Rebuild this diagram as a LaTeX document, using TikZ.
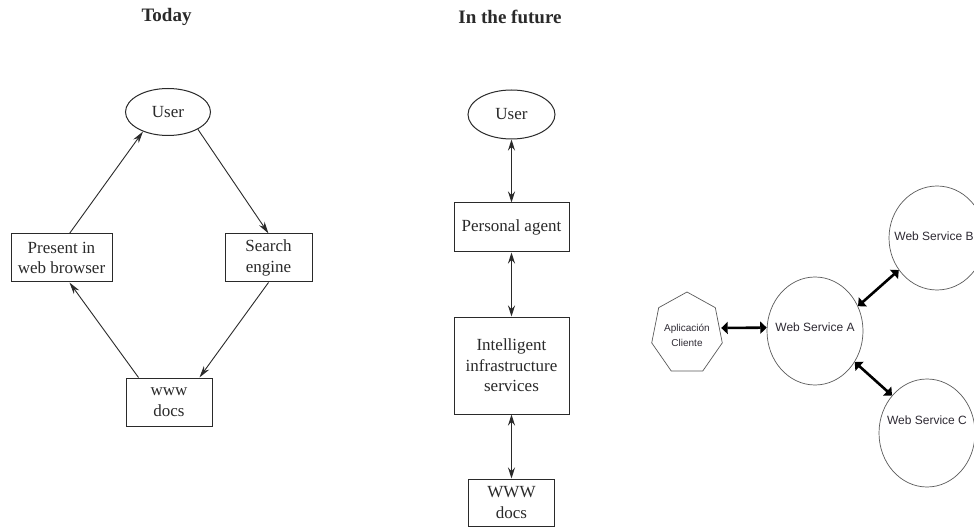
\documentclass[tikz,border=0pt]{standalone}
\usepackage{fontspec}
\setmainfont{Liberation Serif}
\newfontfamily\arialf{Liberation Sans}
\usetikzlibrary{arrows.meta,shapes.geometric}

\definecolor{linec}{HTML}{2A2A2A}
\definecolor{wsline}{HTML}{5A5A5A}
\definecolor{wsink}{HTML}{2E2A33}

\begin{document}
\begin{tikzpicture}[x=1pt,y=-1pt,
  ttl/.style={font=\fontsize{19}{22}\selectfont\bfseries, text=linec},
  sbox/.style={draw=linec, line width=1pt, align=center, inner sep=0pt,
    text=linec, font=\fontsize{17}{20.5}\selectfont},
  uell/.style={sbox, ellipse},
  fwd/.style={-{Stealth[length=12pt,width=6.5pt]}, draw=linec, line width=0.9pt},
  both/.style={{Stealth[length=11pt,width=7pt]}-{Stealth[length=11pt,width=7pt]},
    draw=linec, line width=1pt},
  ws/.style={ellipse, draw=wsline, line width=0.7pt, minimum width=96pt,
    minimum height=108pt, inner sep=0pt},
  wstext/.style={font=\arialf\fontsize{12}{14}\selectfont, text=wsink, inner sep=0pt},
  tharr/.style={{Triangle[length=6.5pt,width=12pt]}-{Triangle[length=6.5pt,width=12pt]},
    line width=2.6pt, draw=black}]

\fill[white] (0,0) rectangle (974,529);
\useasboundingbox (0,0) rectangle (974,529);

% ---- Today ----
\node[ttl] (t1) at (166.5,17) {Today};
\node[uell, minimum width=85pt, minimum height=47pt] (u1) at (168,112) {User};
\node[sbox, minimum width=101pt, minimum height=48pt] (pb) at (61.5,258) {Present in\\web browser};
\node[sbox, minimum width=87pt, minimum height=48pt] (se) at (268.5,258) {Search\\engine};
\node[sbox, minimum width=86pt, minimum height=48pt] (wd1) at (169,402) {www\\docs};

\draw[fwd] (u1.-30) -- (se.north);
\draw[fwd] (se.south) -- ([xshift=-13pt]wd1.north east);
\draw[fwd] ([xshift=13pt]wd1.north west) -- ([xshift=8pt]pb.south);
\draw[fwd] ([xshift=8pt]pb.north) -- (u1.-142);

% ---- In the future ----
\node[ttl] (t2) at (510,17) {In the future};
\node[uell, minimum width=87pt, minimum height=49pt] (u2) at (511.5,114.5) {User};
\node[sbox, minimum width=115pt, minimum height=49pt] (pa) at (511.5,227.5) {Personal agent};
\node[sbox, minimum width=115pt, minimum height=97pt] (ii) at (511.5,365.5) {Intelligent\\infrastructure\\services};
\node[sbox, minimum width=86pt, minimum height=47pt] (wd2) at (511.5,502.5) {WWW\\docs};

\draw[both] (u2) -- (pa);
\draw[both] (pa) -- (ii);
\draw[both] (ii) -- (wd2);

% ---- Web services ----
% client application: a slightly narrowed heptagon
\draw[wsline, line width=0.7pt, shift={(687,333.6)}, xscale=0.87]
  (-90:41.6) \foreach \k in {1,...,6}{ -- ({-90+\k*360/7}:41.6)} -- cycle;
\node[wstext, font=\arialf\fontsize{10}{15}\selectfont, align=center,
  minimum width=72pt, minimum height=79pt] (apl) at (687,335) {Aplicación\\Cliente};

\node[ws, label={[wstext,yshift=4pt]center:Web Service A}] (wa) at (815,331) {};
\node[ws, minimum height=104pt, label={[wstext,xshift=-3pt,yshift=2pt]center:Web Service B}] (wb) at (937,238) {};
\node[ws, label={[wstext,yshift=13pt]center:Web Service C}] (wc) at (927,433) {};

\draw[tharr] ([xshift=-2pt,yshift=7pt]apl.east) -- (wa.176);
\draw[tharr] (wa.30) -- (wb.-140);
\draw[tharr] (wa.-38) -- (wc.133);

\end{tikzpicture}
\end{document}
